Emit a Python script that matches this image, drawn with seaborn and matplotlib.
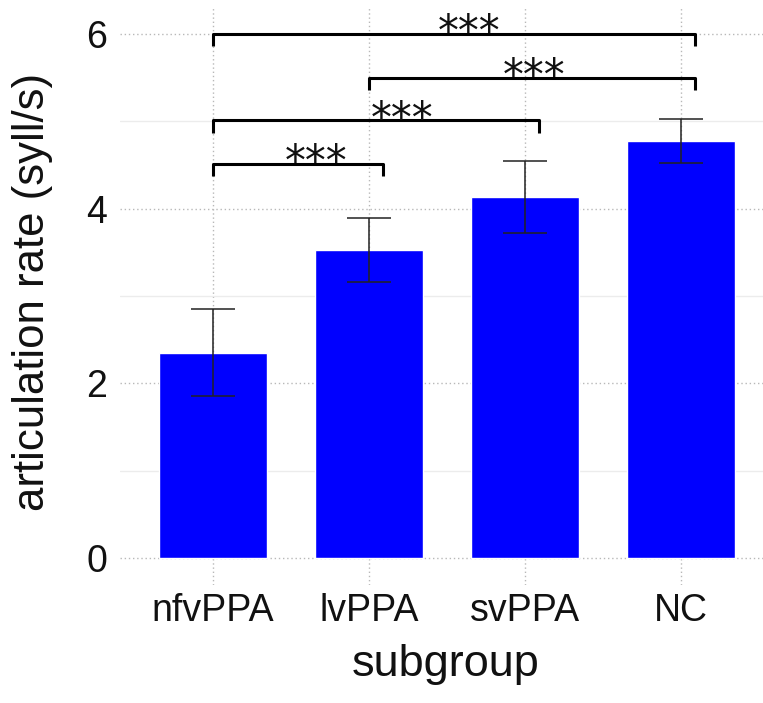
import matplotlib
matplotlib.use("Agg")
import matplotlib.pyplot as plt
import seaborn as sns
import pandas as pd
import numpy as np

# ---- data ----
subgroups = ["nfvPPA", "lvPPA", "svPPA", "NC"]
rate_mean = [2.35, 3.52, 4.13, 4.77]
err_low = [1.85, 3.16, 3.72, 4.52]
err_high = [2.85, 3.89, 4.54, 5.03]

# significance comparisons (index pairs), bracket heights and labels
comp_left = [0, 1, 0, 0]
comp_right = [3, 3, 2, 1]
comp_height = [6.00, 5.50, 5.01, 4.51]
comp_label = ["***", "***", "***", "***"]
star_x = [1.64, 2.06, 1.21, 0.66]

df = pd.DataFrame({"subgroup": subgroups, "rate": rate_mean})

sns.set_theme(style="white")
plt.rcParams["font.family"] = ["Liberation Sans", "DejaVu Sans"]

fig = plt.figure(figsize=(7.63, 7.03), dpi=100)
ax = fig.add_axes([0.157, 0.168, 0.843, 0.821])

ax.set_axisbelow(True)
sns.barplot(data=df, x="subgroup", y="rate", color="#0000FF", saturation=1,
            width=0.69, errorbar=None, ax=ax, zorder=2)

x = np.arange(len(subgroups))
yerr = np.array([np.array(rate_mean) - np.array(err_low),
                 np.array(err_high) - np.array(rate_mean)])
ax.errorbar(x, rate_mean, yerr=yerr, fmt="none", ecolor="#222222",
            elinewidth=1.1, capsize=16, capthick=1.1, zorder=3)

# brackets
leg = 0.14
for l, r, h, lab, sx in zip(comp_left, comp_right, comp_height, comp_label, star_x):
    xl = l
    xr = r + 0.09
    ax.plot([xl, xl, xr, xr], [h - leg, h, h, h - leg], color="black", lw=2.2,
            solid_joinstyle="round", solid_capstyle="butt", zorder=4, clip_on=False)
    ax.text(sx, h - 0.13, lab, ha="center", va="baseline", fontsize=30,
            family="DejaVu Sans", color="#111111", zorder=5)

ax.set_xlim(-0.596, 3.526)
ax.set_ylim(-0.31, 6.30)
ax.set_yticks([0, 2, 4, 6])
ax.set_yticks([1, 3, 5], minor=True)

ax.grid(True, which="major", axis="both", color="#b8b8b8", linestyle=(0, (1, 2)), lw=1.0)
ax.grid(True, which="minor", axis="y", color="#ececec", linestyle="-", lw=1.0)

for s in ax.spines.values():
    s.set_visible(False)

ax.tick_params(axis="both", which="major", length=5, width=1, color="#888888",
               labelsize=27, labelcolor="#111111", pad=4)
ax.tick_params(axis="y", which="minor", length=0)
ax.tick_params(axis="x", pad=0.5)

ax.set_xlabel("subgroup", fontsize=32.5, color="#111111")
ax.set_ylabel("articulation rate (syll/s)", fontsize=31.5, color="#111111")
ax.xaxis.set_label_coords(0.507, -0.102)
ax.yaxis.set_label_coords(-0.104, 0.508)

fig.savefig("out.png", dpi=100)
